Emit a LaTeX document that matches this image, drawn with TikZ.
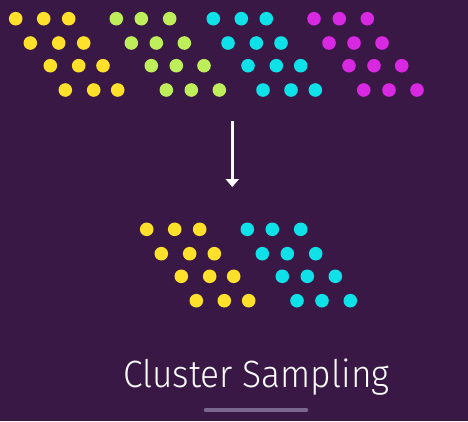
\documentclass[tikz,border=0pt]{standalone}
\usepackage{fontspec}
\setmainfont{Fira Sans}[UprightFont=* Light,FakeStretch=0.93]
\usepackage{xcolor}
\usepackage{tikz}
\usetikzlibrary{arrows.meta,positioning}

\definecolor{bgpurple}{RGB}{58,24,70}
\definecolor{dotyellow}{RGB}{255,224,42}
\definecolor{dotgreen}{RGB}{190,238,90}
\definecolor{dotcyan}{RGB}{14,226,232}
\definecolor{dotmagenta}{RGB}{216,40,225}
\definecolor{barlilac}{RGB}{122,102,142}

\begin{document}
\begin{tikzpicture}[x=1pt,y=-1pt]
% Background
\fill[bgpurple] (0,0) rectangle (468,421);
\useasboundingbox (0,0) rectangle (468,421);

% Population: four clusters
\foreach \x/\y in {15.7/18.7,43.7/18.7,68.7/18.7,30.3/43,58.7/43,83.7/43,
    50.3/65.7,78.7/65.7,103/65.7,65.3/90,93.7/90,117.7/90} {
    \fill[dotyellow] (\x,\y) circle (6.8pt);
}
\foreach \x/\y in {116.3/18.7,141.3/18.7,169.7/18.7,131.3/43,156.3/43,184.3/43,
    151.3/65.7,176.3/65.7,204/65.7,166.3/90,191.3/90,219.3/90} {
    \fill[dotgreen] (\x,\y) circle (6.8pt);
}
\foreach \x/\y in {213.3/18.7,241.3/18.7,266.3/18.7,228/43,256.3/43,281/43,
    248/65.7,276.3/65.7,300.7/65.7,263/90,291/90,315.3/90} {
    \fill[dotcyan] (\x,\y) circle (6.8pt);
}
\foreach \x/\y in {314/18.7,339.3/18.7,367.3/18.7,329/43,354/43,382/43,
    349/65.7,374/65.7,401.7/65.7,363.7/90,389/90,417/90} {
    \fill[dotmagenta] (\x,\y) circle (6.8pt);
}

% Arrow
\coordinate (arrowtop) at (232.3,121);
\coordinate (arrowend) at (232.3,187);
\draw[white,line width=3pt,-{Triangle[width=13pt,length=8pt]}] (arrowtop) -- (arrowend);

% Sample: two chosen clusters
\foreach \x/\y in {146.7/229.3,174.7/229.3,199.7/229.3,161.3/253.7,189.7/253.7,214.3/253.7,
    181.3/276.3,209.7/276.3,233.7/276.3,196.3/300.7,224.3/300.7,248.7/300.7} {
    \fill[dotyellow] (\x,\y) circle (6.8pt);
}
\foreach \x/\y in {247.3/229.3,272.3/229.3,300.7/229.3,262.3/253.7,287.3/253.7,315.7/253.7,
    282.3/276.3,307.3/276.3,335.3/276.3,297/300.7,322/300.7,350.3/300.7} {
    \fill[dotcyan] (\x,\y) circle (6.8pt);
}

% Title
\node[white,font=\fontsize{38}{40}\selectfont,anchor=base] (title) at (256.3,387.7) {Cluster Sampling};
\coordinate (barleft) at (205.5,410);
\coordinate (barright) at (306.5,410);
\draw[barlilac,line width=3.5pt,line cap=round] (barleft) -- (barright);

\end{tikzpicture}
\end{document}
